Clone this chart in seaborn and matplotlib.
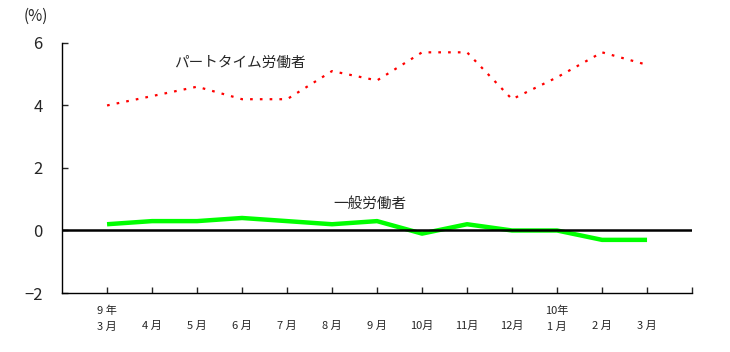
import numpy as np
import pandas as pd
import matplotlib
matplotlib.use("Agg")
import matplotlib.pyplot as plt
import seaborn as sns

# SECTION - DATA
months = ["9 年\n3 月", "\n4 月", "\n5 月", "\n6 月", "\n7 月", "\n8 月", "\n9 月",
          "\n10月", "\n11月", "\n12月", "10年\n1 月", "\n2 月", "\n3 月"]
part_time = [4.0, 4.3, 4.6, 4.2, 4.2, 5.1, 4.8, 5.7, 5.7, 4.2, 4.9, 5.7, 5.3]
general = [0.2, 0.3, 0.3, 0.4, 0.3, 0.2, 0.3, -0.1, 0.2, 0.0, 0.0, -0.3, -0.3]
y_ticks = [-2, 0, 2, 4, 6]
# !SECTION

sns.set_style("white")
plt.rcParams["font.family"] = ["Noto Sans CJK JP", "DejaVu Sans"]

df = pd.DataFrame({"idx": np.arange(len(months)),
                   "part": part_time, "general": general})

fig = plt.figure(figsize=(7.3, 3.52), dpi=100)
ax = fig.add_axes([0.085, 0.1676, 0.863, 0.7104])

sns.lineplot(data=df, x="idx", y="part", ax=ax, color="#ff0000",
             linewidth=1.6, linestyle=(0, (1.2, 3.2)))
sns.lineplot(data=df, x="idx", y="general", ax=ax, color="#00ff00",
             linewidth=3.2, solid_capstyle="butt")
ax.axhline(0, color="black", linewidth=1.8, zorder=3)

ax.set_xlim(-1, 13)
ax.set_ylim(-2, 6)
ax.set_yticks(y_ticks)
ax.set_yticklabels([str(v).replace("-", "−") for v in y_ticks], fontsize=12)
ax.set_xticks(np.arange(len(months) + 1))
ax.set_xticklabels(months + [""], fontsize=8, linespacing=1.7)
ax.tick_params(axis="y", direction="in", length=4, width=1, pad=14, left=True)
ax.tick_params(axis="x", direction="in", length=4, width=1, pad=9, bottom=True)
for lbl in ax.get_xticklabels():
    lbl.set_verticalalignment("top")
ax.set_xlabel("")
ax.set_ylabel("")

for side in ["top", "right"]:
    ax.spines[side].set_visible(False)
for side in ["left", "bottom"]:
    ax.spines[side].set_color("black")
    ax.spines[side].set_linewidth(1)

fig.text(0.032, 0.955, "(%)", fontsize=11, va="center", ha="left")
ax.text(2.96, 5.37, "パートタイム労働者", fontsize=10.5, ha="center", va="center")
ax.text(5.85, 0.86, "一般労働者", fontsize=10.5, ha="center", va="center")

fig.savefig("out.png", dpi=100)
